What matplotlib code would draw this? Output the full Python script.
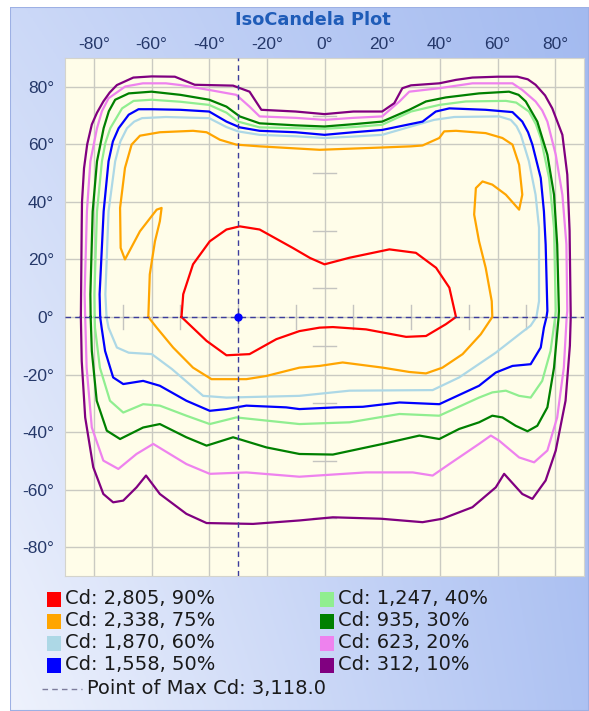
import numpy as np
import matplotlib.pyplot as plt
from matplotlib.patches import Rectangle
from matplotlib.lines import Line2D

# iso-candela levels (legend order)
level_cd = [2805, 2338, 1870, 1558, 1247, 935, 623, 312]
level_pct = [90, 75, 60, 50, 40, 30, 20, 10]
level_colors = ['#ff0000', '#ffa500', '#add8e6', '#0000ff',
                '#90ee90', '#008000', '#ee82ee', '#800080']

max_cd = 3118.0
max_h = -30
max_v = 0

# traced contours: horizontal angle (x) and vertical angle (y), degrees
red_x = [-49.6, -49.0, -45.6, -39.8, -34.0, -29.4, -22.5, -11.0, -5.0, 0.0, 8.7, 22.5, 31.7, 38.7,
         43.3, 45.6, 42.1, 35.2, 28.3, 14.4, 2.9, -1.7, -8.7, -16.7, -26.0, -34.0, -40.9, -49.6]
red_y = [0.0, 7.9, 18.3, 26.3, 30.4, 31.5, 30.4, 24.0, 20.5, 18.3, 20.6, 23.5, 22.3, 17.1,
         10.2, 0.0, -2.5, -6.6, -6.9, -4.3, -3.5, -3.7, -4.9, -7.7, -12.9, -13.3, -8.3, 0.0]

orange_x = [-61.1, -60.6, -58.8, -57.1, -56.5, -58.2, -64.0, -69.2, -70.7, -70.9, -69.2, -66.9, -64.0,
            -57.1, -45.6, -40.9, -36.3, -30.6, -22.5, -1.7, 20.0, 30.0, 34.0, 39.8, 41.5, 45.6, 55.9,
            61.7, 65.2, 67.5, 68.6, 67.5, 62.9, 58.2, 54.8, 52.5, 51.9, 53.6, 55.9, 58.0, 58.2, 54.2,
            47.9, 40.9, 35.2, 29.4, 20.2, 6.3, -1.7, -8.7, -20.2, -27.1, -39.2, -45.6, -52.5, -58.2, -61.1]
orange_y = [0.0, 14.8, 26.3, 33.3, 37.9, 37.3, 29.8, 20.0, 24.0, 37.9, 51.8, 59.9, 63.0,
            64.2, 64.7, 64.2, 61.6, 59.9, 59.3, 58.1, 58.9, 59.3, 59.6, 62.2, 64.5, 64.7, 63.9,
            62.2, 59.9, 52.9, 42.5, 37.3, 42.5, 46.0, 47.1, 44.8, 35.6, 26.3, 17.1, 5.5, 0.0, -6.0,
            -12.9, -17.6, -19.6, -19.1, -17.6, -15.8, -17.0, -17.6, -20.5, -21.6, -21.6, -17.6, -10.6, -3.7, 0.0]

ltblue_x = [-75.6, -76.0, -74.9, -72.6, -70.8, -68.5, -66.0, -63.3, -55.0, -40.0, -34.0, -30.0, -22.5,
            -10.0, 0.0, 10.0, 20.0, 30.0, 38.0, 45.0, 60.6, 64.6, 66.6, 68.1, 70.9, 73.2, 74.4, 74.4,
            73.5, 71.5, 68.6, 59.4, 46.7, 37.5, 8.7, -8.7, -34.0, -42.1, -52.9, -59.9, -67.9, -72.0,
            -74.9, -75.6]
ltblue_y = [0.0, 7.9, 36.7, 54.1, 61.0, 65.6, 67.9, 69.1, 69.5, 69.1, 66.0, 64.5, 63.3,
            62.8, 62.2, 62.7, 63.3, 66.2, 68.5, 69.5, 69.7, 68.5, 66.3, 63.3, 54.1, 42.5, 31.0, 5.5,
            0.0, -3.0, -5.2, -12.4, -21.0, -25.4, -25.6, -27.4, -28.0, -27.4, -18.1, -12.9, -12.4, -10.6,
            -3.7, 0.0]

blue_x = [-77.8, -78.0, -76.6, -74.9, -73.4, -71.4, -67.9, -64.5, -60.0, -50.0, -40.0, -34.0, -29.4,
          -22.5, -10.0, 0.0, 10.0, 20.0, 34.0, 38.6, 43.3, 55.9, 65.2, 68.6, 70.6, 72.1, 75.0, 76.1,
          76.7, 77.3, 77.0, 76.1, 75.0, 71.5, 65.2, 59.4, 53.6, 39.8, 26.0, 13.3, 4.0, -8.7, -13.3,
          -27.1, -34.0, -39.8, -47.9, -57.1, -62.9, -69.8, -73.3, -76.1, -77.3, -77.8]
blue_y = [0.0, 7.9, 36.7, 54.1, 61.0, 65.6, 70.3, 72.2, 72.2, 72.0, 71.4, 67.9, 65.9,
          64.7, 64.2, 63.3, 64.2, 65.0, 67.9, 71.4, 72.5, 72.0, 71.2, 67.9, 64.2, 59.9, 48.3, 36.7,
          25.2, 2.1, 0.0, -3.7, -10.6, -16.4, -17.0, -19.3, -23.9, -30.3, -29.7, -31.2, -31.4, -32.0, -31.4,
          -30.8, -32.0, -32.6, -29.1, -23.9, -22.2, -23.3, -21.0, -11.8, -3.7, 0.0]

ltgreen_x = [-79.7, -79.8, -78.9, -77.2, -76.0, -74.3, -70.2, -66.2, -60.0, -50.0, -40.0, -34.0, -30.0,
             -22.5, -10.0, 0.0, 10.0, 20.0, 30.0, 39.8, 49.0, 62.9, 66.5, 70.9, 73.3, 75.0, 77.9, 79.6,
             80.2, 80.0, 78.4, 75.5, 71.5, 67.5, 62.9, 58.2, 53.6, 39.8, 26.0, 8.7, -8.7, -30.6, -39.8,
             -47.9, -57.1, -62.9, -69.8, -74.4, -77.9, -79.6, -79.7]
ltgreen_y = [0.0, 7.9, 36.7, 54.1, 60.5, 65.6, 72.5, 75.1, 75.5, 74.8, 73.7, 71.0, 67.9,
             65.9, 65.6, 65.4, 66.0, 66.8, 71.4, 73.7, 74.9, 75.1, 74.5, 71.4, 67.0, 62.2, 48.3, 31.0,
             2.1, 0.0, -11.8, -22.2, -28.0, -27.4, -25.6, -26.2, -28.0, -34.3, -33.7, -36.6, -37.2, -34.9, -37.2,
             -34.3, -30.8, -30.3, -33.2, -29.1, -17.6, -3.7, 0.0]

green_x = [-81.1, -81.2, -80.4, -78.9, -76.6, -74.8, -72.6, -67.9, -60.0, -50.0, -40.0, -34.0, -29.4,
           -22.5, -10.0, 0.0, 10.0, 20.0, 29.4, 35.2, 42.1, 53.6, 64.0, 67.3, 69.8, 73.8, 77.3, 79.6,
           80.7, 81.3, 81.2, 79.6, 77.3, 73.8, 70.4, 66.3, 61.7, 58.2, 53.6, 46.7, 39.8, 32.9, 20.2,
           2.9, -8.7, -20.2, -31.7, -40.9, -47.9, -57.1, -62.9, -70.9, -75.5, -79.0, -80.7, -81.1]
green_y = [0.0, 7.9, 36.7, 54.1, 65.6, 71.5, 75.5, 77.7, 78.3, 77.2, 75.5, 73.1, 69.7,
           67.3, 66.6, 66.2, 67.0, 67.9, 72.0, 74.9, 76.3, 77.7, 78.3, 77.2, 74.9, 67.9, 56.4, 42.5,
           25.2, 2.1, 0.0, -17.6, -31.4, -37.8, -39.7, -37.8, -34.9, -34.3, -36.6, -38.9, -42.4, -41.2, -44.1,
           -47.8, -47.6, -45.3, -41.8, -44.7, -41.8, -37.2, -38.4, -42.4, -39.5, -29.1, -11.8, 0.0]

violet_x = [-83.0, -83.2, -82.4, -81.2, -78.9, -77.2, -74.9, -69.1, -63.0, -55.0, -50.0, -40.0, -30.6,
            -26.0, -22.5, -10.0, 0.0, 10.0, 20.0, 26.0, 29.4, 39.8, 51.3, 65.2, 68.6, 73.2, 75.5, 77.3,
            80.2, 82.5, 83.9, 84.2, 84.0, 83.0, 80.7, 77.3, 72.7, 67.5, 60.6, 57.7, 53.6, 43.3, 37.5,
            30.6, 14.4, -8.7, -27.1, -39.8, -47.9, -59.4, -65.2, -71.5, -76.7, -80.7, -82.5, -83.0]
violet_y = [0.0, 7.9, 36.7, 54.1, 65.6, 71.5, 76.0, 80.1, 81.2, 81.2, 80.6, 78.9, 77.2,
            73.1, 69.7, 69.2, 68.5, 69.2, 69.7, 74.9, 78.3, 79.5, 81.2, 81.2, 78.9, 74.9, 71.8, 67.9,
            56.4, 42.5, 25.2, 2.1, 0.0, -17.6, -34.9, -46.4, -50.5, -48.8, -43.0, -41.2, -44.1, -51.1, -55.1,
            -54.0, -54.0, -55.5, -54.0, -54.5, -51.1, -44.1, -47.6, -52.8, -49.9, -38.4, -17.6, 0.0]

purple_x = [-84.5, -84.2, -84.1, -83.4, -82.3, -80.7, -78.9, -76.7, -74.5, -72.0, -66.3, -60.0, -51.9,
            -45.0, -31.7, -26.0, -21.9, -10.0, 0.0, 10.0, 20.0, 24.2, 27.0, 30.0, 39.8, 45.6, 51.3,
            60.0, 66.9, 70.5, 73.2, 76.5, 79.0, 82.5, 84.2, 85.0, 85.4, 85.1, 83.6, 80.2, 76.7, 72.1,
            68.6, 62.3, 59.4, 51.3, 40.9, 34.0, 19.6, 2.9, -8.7, -24.8, -40.9, -47.9, -57.1, -61.9,
            -65.2, -69.8, -73.3, -76.7, -80.2, -83.0, -84.2, -84.5]
purple_y = [0.0, 32.0, 40.0, 51.7, 60.0, 66.9, 71.0, 74.9, 78.0, 80.6, 83.2, 83.6, 83.5,
            80.7, 80.4, 78.3, 72.0, 71.4, 70.5, 71.4, 71.4, 74.3, 79.5, 80.5, 81.2, 82.4, 83.2,
            83.5, 83.5, 82.6, 80.7, 77.0, 72.5, 63.3, 49.5, 30.0, 0.0, -10.0, -29.1, -46.4, -56.8, -63.2,
            -61.5, -54.5, -59.2, -66.1, -70.1, -71.3, -70.1, -69.6, -70.7, -71.9, -71.6, -68.4, -61.5, -55.1,
            -59.2, -63.8, -64.4, -61.5, -52.2, -34.9, -15.3, 0.0]

contours = [(red_x, red_y), (orange_x, orange_y), (ltblue_x, ltblue_y), (blue_x, blue_y),
            (ltgreen_x, ltgreen_y), (green_x, green_y), (violet_x, violet_y), (purple_x, purple_y)]

W, H = 589, 711
fig = plt.figure(figsize=(W / 100, H / 100), dpi=100)
fig.patch.set_facecolor('white')

# blue gradient panel behind everything
bg = fig.add_axes([10 / W, 0, 579 / W, 704 / H])
bg.set_axis_off()
tl = np.array([0.80, 0.85, 0.97])
tr = np.array([0.64, 0.73, 0.94])
bl = np.array([0.935, 0.95, 0.99])
br = np.array([0.68, 0.76, 0.95])
u = np.linspace(0, 1, 200)[None, :, None]
v = np.linspace(0, 1, 200)[:, None, None]
grad = (1 - v) * ((1 - u) * tl + u * tr) + v * ((1 - u) * bl + u * br)
bg.imshow(grad, aspect='auto', extent=[0, 1, 0, 1])
bg.add_patch(Rectangle((0, 0), 1, 1, fill=False, ec='#9db0e4', lw=1.5, transform=bg.transAxes))

ax = fig.add_axes([65 / W, 135 / H, 519 / W, 518 / H])
ax.set_facecolor('#fffde9')
ax.set_xlim(-90, 90)
ax.set_ylim(-90, 90)
ticks = list(range(-80, 81, 20))
ax.set_xticks(ticks)
ax.set_yticks(ticks)
ax.set_xticklabels([f'{t}°' for t in ticks])
ax.set_yticklabels([f'{t}°' for t in ticks])
ax.xaxis.tick_top()
ax.tick_params(length=0, labelsize=12.5, labelcolor='#25386a')
ax.tick_params(axis='x', pad=4)
ax.tick_params(axis='y', pad=8)
for lab in ax.get_xticklabels() + ax.get_yticklabels():
    lab.set_family('Liberation Sans')
ax.grid(color='#cacac2', lw=1)
ax.set_axisbelow(True)
for s in ax.spines.values():
    s.set_color('#d4d4cc')

# small ticks along the centre axes
for m in [-70, -50, -30, -10, 10, 30, 50, 70]:
    ax.plot([-4, 4], [m, m], color='#c4c4c0', lw=1, zorder=1)
    ax.plot([m, m], [-4, 4], color='#c4c4c0', lw=1, zorder=1)

for (cx, cy), col in zip(contours, level_colors):
    ax.plot(cx, cy, color=col, lw=1.6, zorder=3, solid_joinstyle='round')

ax.axvline(max_h, color='#3c3c9c', lw=1, ls=(0, (4, 3)), zorder=4)
ax.axhline(max_v, color='#3c3c9c', lw=1, ls=(0, (4, 3)), zorder=4)
ax.plot(max_h, max_v, 'o', color='#0000ff', ms=5, zorder=5)

fig.text(313 / W, 1 - 20 / H, 'IsoCandela Plot', ha='center', va='center',
         fontsize=12.8, fontweight='bold', color='#1f5cb8', family='DejaVu Sans')

# legend
row_y = [599, 621, 643, 665]
col_x = [47, 320]
for i, (cd, pct, col) in enumerate(zip(level_cd, level_pct, level_colors)):
    c, r = divmod(i, 4)
    x0 = col_x[c]
    y0 = row_y[r]
    fig.add_artist(Rectangle((x0 / W, 1 - (y0 + 7.5) / H), 14 / W, 15 / H, fc=col, ec='none',
                             transform=fig.transFigure))
    fig.text((x0 + 18) / W, 1 - y0 / H, f'Cd: {cd:,}, {pct}%', ha='left', va='center',
             fontsize=14, color='#1a1a1a', family='DejaVu Sans')

fig.add_artist(Line2D([42 / W, 82 / W], [1 - 689 / H, 1 - 689 / H], color='#7c7c9c', lw=1,
                      ls=(0, (4, 3)), transform=fig.transFigure))
fig.text(87 / W, 1 - 689 / H, f'Point of Max Cd: {max_cd:,.1f}', ha='left', va='center',
         fontsize=14, color='#1a1a1a', family='DejaVu Sans')

fig.savefig('out.png', dpi=100)
